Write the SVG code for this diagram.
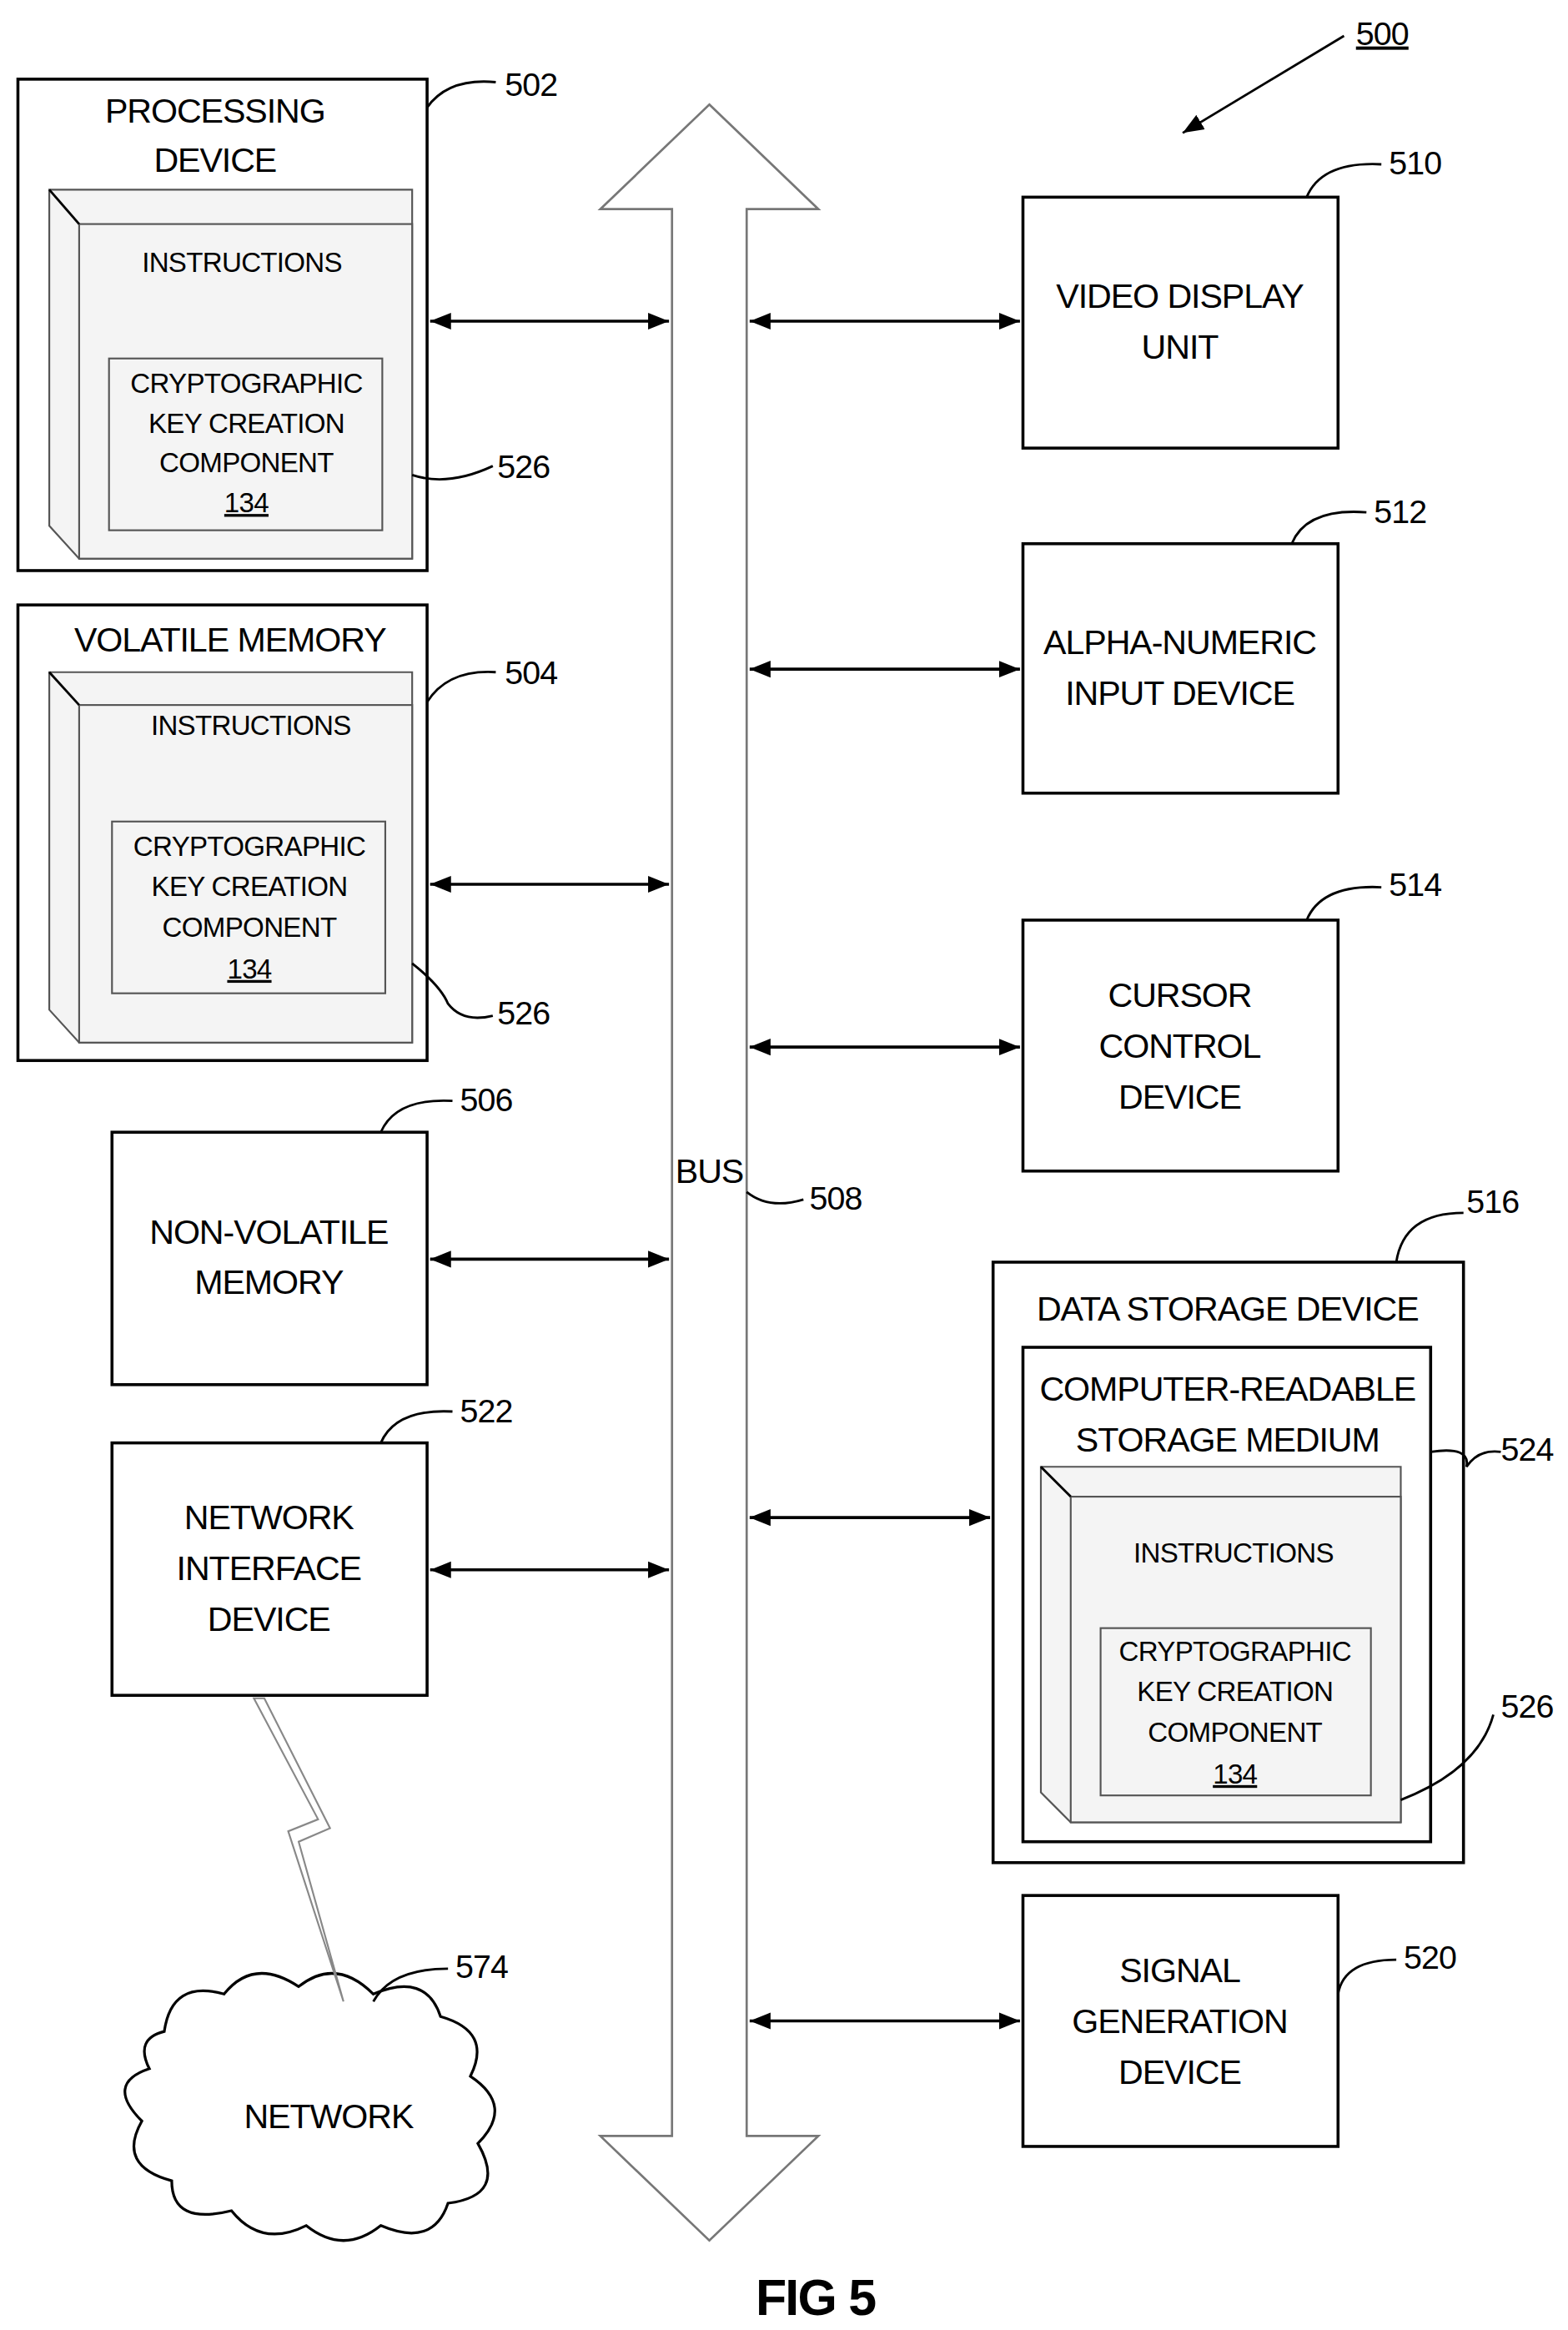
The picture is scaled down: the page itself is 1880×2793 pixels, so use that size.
<svg xmlns="http://www.w3.org/2000/svg" width="1880" height="2793" viewBox="0 0 1880 2793">
<defs>
<style>
.b{fill:#fff;stroke:#000;stroke-width:2}
.l{fill:none;stroke:#000;stroke-width:1.6}
.t{font-family:"Liberation Sans",Arial,sans-serif;font-size:23px;letter-spacing:-0.6px;text-anchor:middle;fill:#000}
.s{font-family:"Liberation Sans",Arial,sans-serif;font-size:18.5px;letter-spacing:-0.4px;text-anchor:middle;fill:#000}
.n{font-family:"Liberation Sans",Arial,sans-serif;font-size:22px;letter-spacing:-0.5px;fill:#000}
.c{fill:#f4f4f4;stroke:#555;stroke-width:1.2}
</style>
<marker id="A" viewBox="0 0 10 10" refX="10" refY="5" markerWidth="14" markerHeight="14" orient="auto-start-reverse" markerUnits="userSpaceOnUse"><path d="M0,1L10,5L0,9z" fill="#000"/></marker>
</defs>
<rect width="1880" height="2793" fill="#fff"/>
<g transform="scale(1.7905)">
<g id="bus">
<polygon points="475,70 548,140 500,140 500,1430 548,1430 475,1500 402,1430 450,1430 450,140 402,140" fill="#fff" stroke="#777" stroke-width="1.5"/>
<text class="t" x="475" y="792">BUS</text>
<path class="l" d="M500,798 Q515,810 538,803"/>
<text class="n" x="542" y="810">508</text>
</g>
<g id="processing">
<rect class="b" x="12" y="53" width="274" height="329"/>
<text class="t" x="144" y="82">PROCESSING</text><text class="t" x="144" y="115">DEVICE</text>
<polygon class="c" points="33,127 276,127 276,374 53,374 33,352"/>
<rect class="c" x="53" y="150" width="223" height="224"/><line class="l" x1="33" y1="127" x2="53" y2="150" stroke-width="1"/>
<text class="s" x="162" y="182">INSTRUCTIONS</text>
<rect class="c" x="73" y="240" width="183" height="115" fill="#fff"/>
<text class="s" x="165" y="263">CRYPTOGRAPHIC</text><text class="s" x="165" y="290">KEY CREATION</text><text class="s" x="165" y="316">COMPONENT</text>
<text class="s" x="165" y="343" text-decoration="underline">134</text>
<path class="l" d="M276,318 Q300,326 330,312"/><text class="n" x="333" y="320">526</text>
<path class="l" d="M286,72 Q300,52 332,55"/><text class="n" x="338" y="64">502</text>
</g>
<g id="volatile">
<rect class="b" x="12" y="405" width="274" height="305"/>
<text class="t" x="154" y="436">VOLATILE MEMORY</text>
<polygon class="c" points="33,450 276,450 276,698 53,698 33,676"/>
<rect class="c" x="53" y="472" width="223" height="226"/><line class="l" x1="33" y1="450" x2="53" y2="472" stroke-width="1"/>
<text class="s" x="168" y="492">INSTRUCTIONS</text>
<rect class="c" x="75" y="550" width="183" height="115" fill="#fff"/>
<text class="s" x="167" y="573">CRYPTOGRAPHIC</text><text class="s" x="167" y="600">KEY CREATION</text><text class="s" x="167" y="627">COMPONENT</text>
<text class="s" x="167" y="655" text-decoration="underline">134</text>
<path class="l" d="M276,645 Q295,660 300,672 Q310,685 330,680"/><text class="n" x="333" y="686">526</text>
<path class="l" d="M286,470 Q300,448 332,450"/><text class="n" x="338" y="458">504</text>
</g>
<g id="nonvolatile">
<rect class="b" x="75" y="758" width="211" height="169"/>
<text class="t" x="180" y="833">NON-VOLATILE</text><text class="t" x="180" y="866">MEMORY</text>
<path class="l" d="M255,758 Q265,735 303,737"/><text class="n" x="308" y="744">506</text>
</g>
<g id="nic">
<rect class="b" x="75" y="966" width="211" height="169"/>
<text class="t" x="180" y="1024">NETWORK</text><text class="t" x="180" y="1058">INTERFACE</text><text class="t" x="180" y="1092">DEVICE</text>
<path class="l" d="M255,966 Q265,943 303,945"/><text class="n" x="308" y="952">522</text>
</g>
<g id="network">
<path d="M110,1360 Q115,1325 150,1335 Q170,1310 200,1330 Q225,1310 250,1335 Q285,1320 295,1350 Q330,1360 315,1390 Q345,1410 320,1435 Q340,1470 300,1475 Q290,1505 255,1490 Q230,1510 205,1490 Q175,1505 155,1480 Q115,1490 115,1460 Q78,1450 95,1420 Q70,1395 100,1385 Q90,1365 110,1360 Z" fill="#fff" stroke="#000" stroke-width="1.8"/>
<text class="t" x="220" y="1425">NETWORK</text>
<path class="l" d="M250,1340 Q262,1318 300,1318"/><text class="n" x="305" y="1324">574</text>
<polygon points="170,1137 213,1218 193,1226 230,1340 200,1233 221,1224 177,1137" fill="#fff" stroke="#888" stroke-width="1.2"/>
</g>
<g id="video">
<rect class="b" x="685" y="132" width="211" height="168"/>
<text class="t" x="790" y="206">VIDEO DISPLAY</text><text class="t" x="790" y="240">UNIT</text>
<path class="l" d="M875,132 Q885,108 925,110"/><text class="n" x="930" y="117">510</text>
</g>
<g id="alpha">
<rect class="b" x="685" y="364" width="211" height="167"/>
<text class="t" x="790" y="438">ALPHA-NUMERIC</text><text class="t" x="790" y="472">INPUT DEVICE</text>
<path class="l" d="M865,364 Q875,340 915,343"/><text class="n" x="920" y="350">512</text>
</g>
<g id="cursor">
<rect class="b" x="685" y="616" width="211" height="168"/>
<text class="t" x="790" y="674">CURSOR</text><text class="t" x="790" y="708">CONTROL</text><text class="t" x="790" y="742">DEVICE</text>
<path class="l" d="M875,616 Q885,592 925,594"/><text class="n" x="930" y="600">514</text>
</g>
<g id="datastorage">
<rect class="b" x="665" y="845" width="315" height="402"/>
<text class="t" x="822" y="884">DATA STORAGE DEVICE</text>
<rect class="b" x="685" y="902" width="273" height="331"/>
<text class="t" x="822" y="938">COMPUTER-READABLE</text><text class="t" x="822" y="972">STORAGE MEDIUM</text>
<polygon class="c" points="697,982 938,982 938,1220 717,1220 697,1200"/>
<rect class="c" x="717" y="1002" width="221" height="218"/><line class="l" x1="697" y1="982" x2="717" y2="1002" stroke-width="1"/>
<text class="s" x="826" y="1046">INSTRUCTIONS</text>
<rect class="c" x="737" y="1090" width="181" height="112" fill="#fff"/>
<text class="s" x="827" y="1112">CRYPTOGRAPHIC</text><text class="s" x="827" y="1139">KEY CREATION</text><text class="s" x="827" y="1166">COMPONENT</text>
<text class="s" x="827" y="1194" text-decoration="underline">134</text>
<path class="l" d="M938,1205 Q990,1185 1000,1148"/><text class="n" x="1005" y="1150">526</text>
<path class="l" d="M958,972 Q985,968 982,982 Q990,970 1005,972"/><text class="n" x="1005" y="978">524</text>
<path class="l" d="M935,845 Q940,812 980,812"/><text class="n" x="982" y="812">516</text>
</g>
<g id="signal">
<rect class="b" x="685" y="1269" width="211" height="168"/>
<text class="t" x="790" y="1327">SIGNAL</text><text class="t" x="790" y="1361">GENERATION</text><text class="t" x="790" y="1395">DEVICE</text>
<path class="l" d="M896,1335 Q900,1312 935,1312"/><text class="n" x="940" y="1318">520</text>
</g>
<g id="connectors" stroke="#000" stroke-width="2" fill="none">
<line x1="288" y1="215" x2="448" y2="215" marker-start="url(#A)" marker-end="url(#A)"/>
<line x1="288" y1="592" x2="448" y2="592" marker-start="url(#A)" marker-end="url(#A)"/>
<line x1="288" y1="843" x2="448" y2="843" marker-start="url(#A)" marker-end="url(#A)"/>
<line x1="288" y1="1051" x2="448" y2="1051" marker-start="url(#A)" marker-end="url(#A)"/>
<line x1="502" y1="215" x2="683" y2="215" marker-start="url(#A)" marker-end="url(#A)"/>
<line x1="502" y1="448" x2="683" y2="448" marker-start="url(#A)" marker-end="url(#A)"/>
<line x1="502" y1="701" x2="683" y2="701" marker-start="url(#A)" marker-end="url(#A)"/>
<line x1="502" y1="1016" x2="663" y2="1016" marker-start="url(#A)" marker-end="url(#A)"/>
<line x1="502" y1="1353" x2="683" y2="1353" marker-start="url(#A)" marker-end="url(#A)"/>
<line x1="900" y1="24" x2="792" y2="89" stroke-width="1.6" marker-end="url(#A)"/>
</g>
<text class="n" x="908" y="30" text-decoration="underline">500</text>
<text x="546" y="1550" font-family="Liberation Sans,Arial,sans-serif" font-size="34" font-weight="bold" letter-spacing="-1" text-anchor="middle">FIG 5</text>
</g>
</svg>
